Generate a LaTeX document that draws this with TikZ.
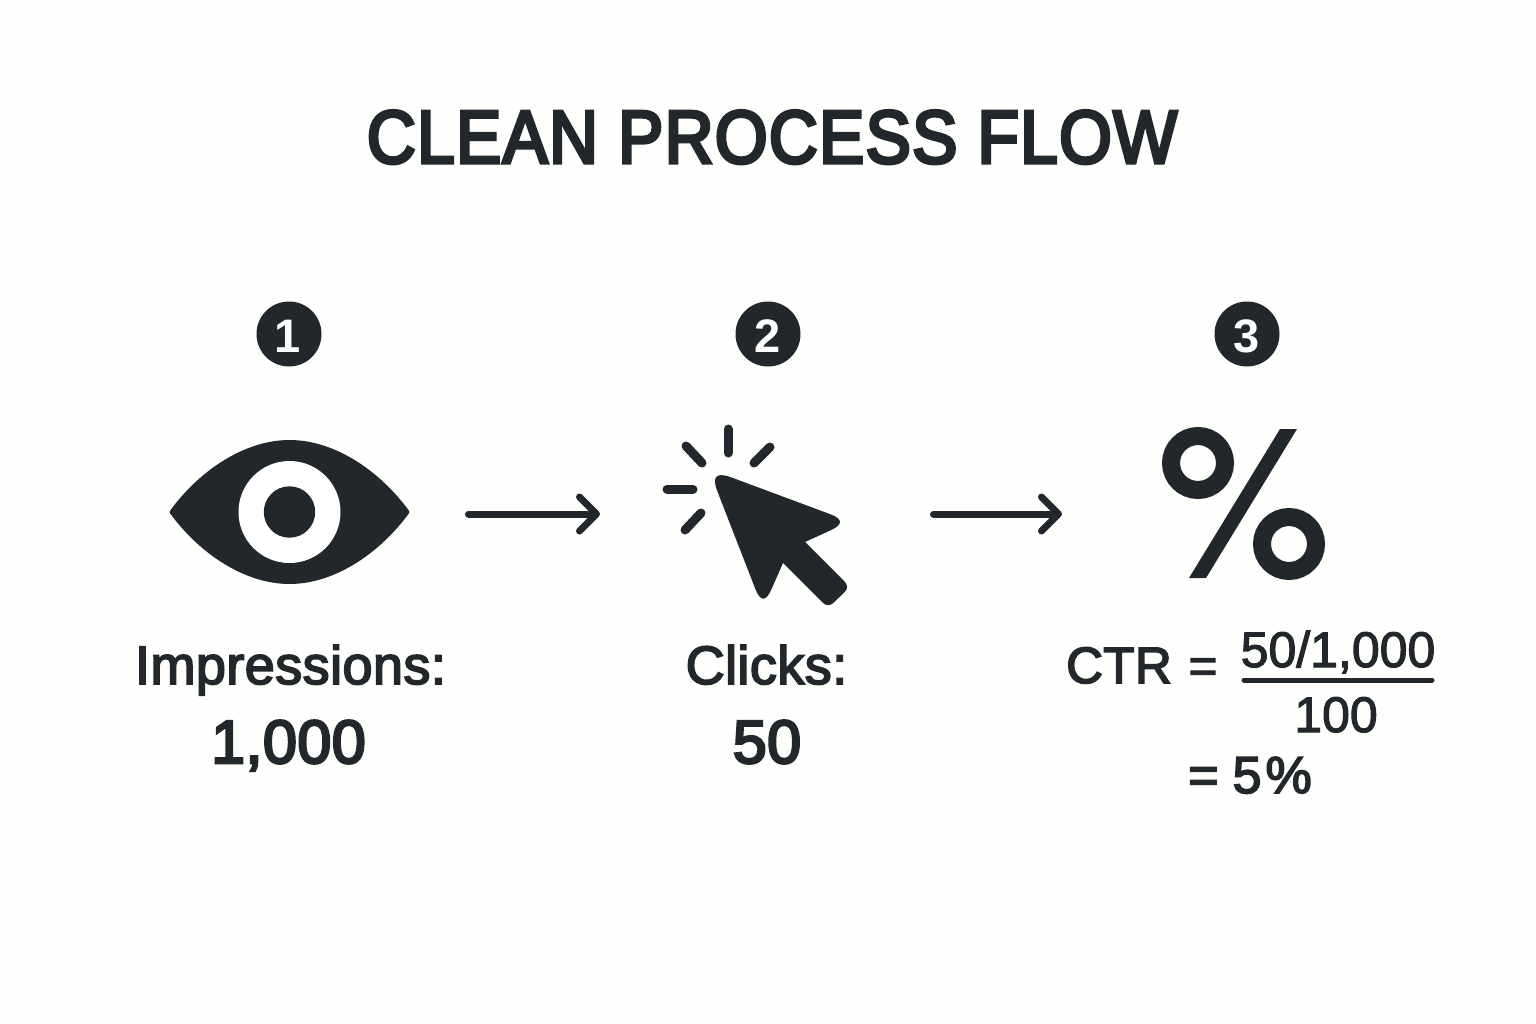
\documentclass[tikz,border=0pt]{standalone}
\usepackage{fontspec}
\usetikzlibrary{arrows.meta}
\setmainfont{Liberation Sans}
\newfontfamily\titlefont[FakeBold=4.5,FakeStretch=0.9,LetterSpace=2]{Liberation Sans}
\newfontfamily\medfont[FakeBold=3.2,LetterSpace=0.8]{Liberation Sans}
\newfontfamily\valuefont[FakeBold=4.2,LetterSpace=0.8]{Liberation Sans}
\newfontfamily\lightfont[FakeBold=2.2]{Liberation Sans}
\definecolor{ink}{HTML}{22272B}
\definecolor{paper}{HTML}{FEFEFD}
\tikzset{
  x=1pt,y=-1pt,
  inkfill/.style={fill=ink,draw=none},
  ghost/.style={inner sep=0pt,outer sep=0pt,draw=none},
  flow/.style={draw=ink,line width=7pt,line cap=round,line join=round,-{Straight Barb[length=17pt,width=34pt,round,line width=7pt]}},
  titletext/.style={anchor=base,text=ink,inner sep=0pt,font=\fontsize{75}{75}\selectfont\titlefont},
  badge/.style={circle,fill=ink,minimum size=65pt,inner sep=0pt},
  digit/.style={text=white,inner sep=0pt,anchor=base,font=\fontsize{47}{47}\selectfont\bfseries},
  label/.style={anchor=base,text=ink,inner sep=0pt,font=\fontsize{54}{54}\selectfont\medfont},
  value/.style={anchor=base,text=ink,inner sep=0pt,font=\fontsize{61}{61}\selectfont\valuefont},
  formula/.style={anchor=base,text=ink,inner sep=0pt,font=\fontsize{50}{50}\selectfont\lightfont},
  ray/.style={draw=ink,line width=9pt,line cap=round},
}
\begin{document}
\begin{tikzpicture}
\fill[paper] (0,0) rectangle (1536,1024);
\useasboundingbox (0,0) rectangle (1536,1024);

\node[titletext] (title) at (772,163) {CLEAN PROCESS FLOW};

% badges
\node[badge] (b1) at (289,334) {};
\node[badge] (b2) at (768,334) {};
\node[badge] (b3) at (1247,334) {};
\node[digit] (d1) at (288,352) {1};
\node[digit] (d2) at (768,352) {2};
\node[digit] (d3) at (1247,352) {3};

% eye
\path[fill=ink,draw=ink,line width=3pt,line join=round] (171,512) .. controls (200,472) and (245,441.5) .. (289.5,441.5)
  .. controls (334,441.5) and (379,472) .. (408,512)
  .. controls (379,552) and (334,582.5) .. (289.5,582.5)
  .. controls (245,582.5) and (200,552) .. (171,512) -- cycle;
\fill[white] (289.5,512) circle[radius=51];
\fill[ink] (289.5,512) circle[radius=25.7];

% cursor
\path[inkfill] (805,542) -- (830.6,530.3) .. controls (843.3,524.4) and (843.1,519) .. (830,514.1)
  -- (731.3,477.4) .. controls (716.2,471.8) and (711.6,476.5) .. (717.4,491.4)
  -- (755.2,588.6) .. controls (760.4,602) and (765.9,602.1) .. (771.6,588.9)
  -- (783,563) -- (822.3,602.3) .. controls (826.1,606.1) and (829.9,606.2) .. (833.8,602.5)
  -- (844.2,592.5) .. controls (848.1,588.8) and (848.1,585.1) .. (844.3,581.3) -- cycle;
\draw[ray] (728,429) -- (728,453);
\draw[ray] (770,447) -- (754,463);
\draw[ray] (686,446) -- (702,463);
\draw[ray] (667,489) -- (693,489);
\draw[ray] (685,530) -- (701,513);

% percent
\draw[ink,line width=18pt] (1198,463) circle[radius=27];
\draw[ink,line width=18pt] (1289,544) circle[radius=27];
\path[inkfill] (1280,429) -- (1297,429) -- (1206,578) -- (1189,578) -- cycle;

% invisible icon frames for connectors
\node[ghost,minimum width=240pt,minimum height=144pt] (eye) at (289,514) {};
\node[ghost,minimum width=186pt,minimum height=190pt] (cursor) at (755,514) {};
\node[ghost,minimum width=164pt,minimum height=150pt] (pct) at (1244,514) {};
\draw[flow,shorten <=59.5pt,shorten >=62pt] (eye.east) -- (cursor.west);
\draw[flow,shorten <=85.5pt,shorten >=100pt] (cursor.east) -- (pct.west);

% labels
\node[label] (limp) at (290.5,684) {Impressions:};
\node[value] (vimp) at (288.5,763) {1,000};
\node[label] (lclk) at (766.5,684) {Clicks:};
\node[value] (vclk) at (767,763) {50};

% formula
\node[formula,font=\fontsize{51}{51}\selectfont\medfont] (ctr) at (1119,683) {CTR};
\node[formula] (eq1) at (1203,683) {=};
\node[formula] (num) at (1338,667) {50/1,000};
\draw[ink,line width=5pt,line cap=round] (1244,680) -- (1432,680);
\node[formula] (den) at (1336,732) {100};
\node[formula,font=\fontsize{52}{52}\selectfont\medfont] (res) at (1250,793) {=\kern14pt 5\kern4pt\%};
\end{tikzpicture}
\end{document}
